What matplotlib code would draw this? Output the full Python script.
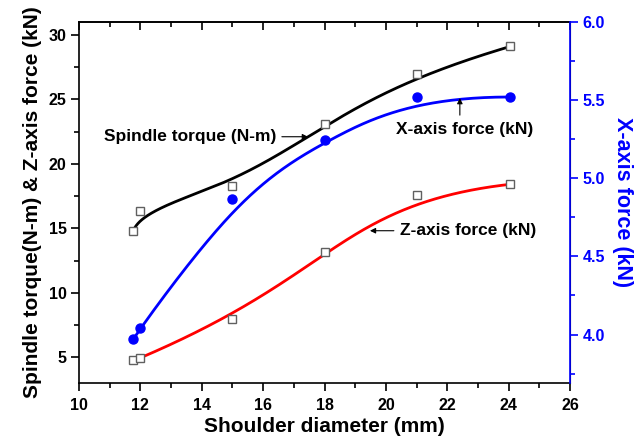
import numpy as np
import matplotlib
matplotlib.use("Agg")
import matplotlib.pyplot as plt

plt.rcParams['font.family'] = ['Liberation Sans', 'DejaVu Sans']
plt.rcParams['font.weight'] = 'bold'

# Data
torque_x = [11.77, 12.0, 15.0, 18.0, 21.0, 24.05]
torque_y = [14.8, 16.34, 18.28, 23.05, 26.95, 29.1]

zforce_x = [11.77, 12.0, 15.0, 18.0, 21.0, 24.05]
zforce_y = [4.8, 4.95, 8.0, 13.15, 17.6, 18.41]

xforce_x = [11.77, 12.0, 15.0, 18.0, 21.0, 24.05]
xforce_y = [3.97, 4.04, 4.87, 5.245, 5.52, 5.52]

x_ticks = [10, 12, 14, 16, 18, 20, 22, 24, 26]
left_ticks = [5, 10, 15, 20, 25, 30]
right_ticks = [4.0, 4.5, 5.0, 5.5, 6.0]


def bspline(xs, ys, n=400, k=3):
    """Clamped uniform B-spline using the data points as control points."""
    P = np.column_stack([xs, ys])
    m = len(P)
    k = min(k, m - 1)
    knots = np.concatenate([np.zeros(k), np.arange(m - k + 1), np.full(k, m - k)]).astype(float)
    t = np.linspace(0, m - k, n)
    t[-1] -= 1e-9

    def N(i, p, tt):
        if p == 0:
            return ((knots[i] <= tt) & (tt < knots[i + 1])).astype(float)
        out = np.zeros_like(tt)
        d1 = knots[i + p] - knots[i]
        d2 = knots[i + p + 1] - knots[i + 1]
        if d1 > 0:
            out += (tt - knots[i]) / d1 * N(i, p - 1, tt)
        if d2 > 0:
            out += (knots[i + p + 1] - tt) / d2 * N(i + 1, p - 1, tt)
        return out

    B = np.array([N(i, k, t) for i in range(m)])
    C = B.T @ P
    return C[:, 0], C[:, 1]


fig = plt.figure(figsize=(6.43, 4.38), dpi=100)
ax = fig.add_axes([0.1229, 0.1256, 0.7636, 0.8242])
ax2 = ax.twinx()

# curves
cx, cy = bspline(torque_x, torque_y)
ax.plot(cx, cy, color='black', lw=2.0, zorder=2)
cx, cy = bspline(zforce_x[1:], zforce_y[1:])
ax.plot(cx, cy, color='red', lw=2.0, zorder=2)
cx, cy = bspline(xforce_x, xforce_y)
ax2.plot(cx, cy, color='blue', lw=2.0, zorder=2)

# markers
ax.plot(torque_x, torque_y, 's', ms=6, mfc='white', mec='#606060', mew=1.0, zorder=3)
ax.plot(zforce_x, zforce_y, 's', ms=6, mfc='white', mec='#606060', mew=1.0, zorder=3)
ax2.plot(xforce_x, xforce_y, 'o', ms=6.5, color='blue', zorder=3)

ax.set_xlim(10, 26)
ax.set_ylim(3.0, 31.0)
ax2.set_ylim(3.69, 6.0)

ax.set_xticks(x_ticks)
ax.set_xticks(np.arange(11, 26, 2), minor=True)
ax.set_yticks(left_ticks)
ax.set_yticks([7.5, 12.5, 17.5, 22.5, 27.5], minor=True)
ax2.set_yticks(right_ticks)
ax2.set_yticks([3.75, 4.25, 4.75, 5.25, 5.75], minor=True)
ax2.set_yticklabels([f"{v:.1f}" for v in right_ticks])

ax.tick_params(axis='both', which='major', direction='out', length=6, width=1.2,
               labelsize=11.5, pad=3)
ax.tick_params(axis='both', which='minor', direction='out', length=3.5, width=1.2)
ax.tick_params(axis='x', which='major', pad=5)
# top ticks point inward
secx = ax.secondary_xaxis('top')
secx.set_xticks(x_ticks)
secx.set_xticks(np.arange(11, 26, 2), minor=True)
secx.tick_params(which='major', direction='in', length=6, width=1.2, labeltop=False)
secx.tick_params(which='minor', direction='in', length=3.5, width=1.2)
secx.spines['top'].set_linewidth(1.2)
ax.tick_params(axis='x', which='both', top=False)

ax2.tick_params(axis='y', which='major', direction='out', length=6, width=1.2,
                colors='blue', labelsize=11.5, pad=3)
ax2.tick_params(axis='y', which='minor', direction='out', length=3.5, width=1.2, colors='blue')
ax2.spines['right'].set_color('blue')
ax2.spines['right'].set_linewidth(1.2)
for s in ['left', 'bottom', 'top']:
    ax.spines[s].set_linewidth(1.2)
ax2.spines['left'].set_visible(False)
ax2.spines['top'].set_visible(False)
ax2.spines['bottom'].set_visible(False)
for lab in ax.get_xticklabels() + ax.get_yticklabels() + ax2.get_yticklabels():
    lab.set_fontweight('bold')

ax.set_xlabel('Shoulder diameter (mm)', fontsize=15, fontweight='bold', labelpad=3)
ax.set_ylabel('Spindle torque(N-m) & Z-axis force (kN)', fontsize=15, fontweight='bold', labelpad=5)
ax2.set_ylabel('X-axis force (kN)', fontsize=15.5, fontweight='bold', color='blue',
               rotation=270, labelpad=20)

# annotations
afs = 12.5
arrow = dict(arrowstyle='-|>', color='black', lw=0.8, shrinkA=0, shrinkB=0,
             mutation_scale=8)
ax.text(13.63, 22.1, 'Spindle torque (N-m)', fontsize=afs, fontweight='bold',
        ha='center', va='center')
ax.annotate('', xy=(17.46, 22.1), xytext=(16.61, 22.1), arrowprops=arrow)

ax2.text(22.56, 5.31, 'X-axis force (kN)', fontsize=afs, fontweight='bold',
         ha='center', va='center')
ax2.annotate('', xy=(22.41, 5.513), xytext=(22.41, 5.404), arrowprops=arrow)

ax.text(22.67, 14.81, 'Z-axis force (kN)', fontsize=afs, fontweight='bold',
        ha='center', va='center')
ax.annotate('', xy=(19.48, 14.81), xytext=(20.26, 14.81), arrowprops=arrow)

fig.savefig('out.png', dpi=100)
